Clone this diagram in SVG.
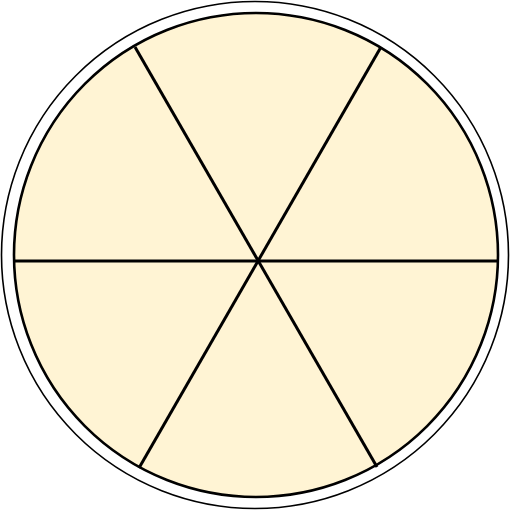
<svg xmlns="http://www.w3.org/2000/svg" width="512" height="512" viewBox="0 0 512 512">
<style>
.ln{stroke:#000;stroke-width:3;fill:none;stroke-linecap:butt}
</style>
<g id="outer"><circle cx="255" cy="255" r="253.5" fill="#fff" stroke="#000" stroke-width="1.6"/></g>
<g id="inner"><circle cx="256" cy="255" r="242" fill="#fff4d4" stroke="#000" stroke-width="2.6"/></g>
<g id="connectors">
<line class="ln" x1="14" y1="261" x2="498" y2="261"/>
<line class="ln" x1="135" y1="47" x2="377" y2="467"/>
<line class="ln" x1="381" y1="47" x2="139" y2="468"/>
</g>
</svg>
